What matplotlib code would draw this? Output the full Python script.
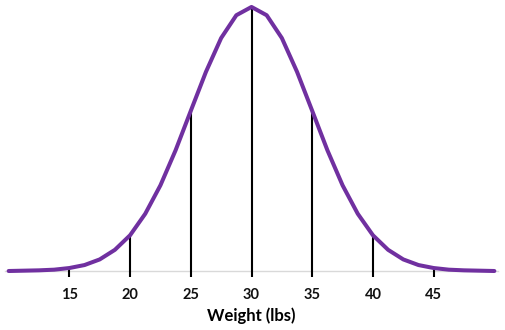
import matplotlib
matplotlib.use("Agg")
import matplotlib.pyplot as plt

plt.rcParams["font.family"] = ["Lato", "DejaVu Sans"]

# Weight distribution curve (sampled every 1.25 lbs)
weights = [10, 11.25, 12.5, 13.75, 15, 16.25, 17.5, 18.75, 20, 21.25, 22.5, 23.75,
           25, 26.25, 27.5, 28.75, 30, 31.25, 32.5, 33.75, 35, 36.25, 37.5, 38.75,
           40, 41.25, 42.5, 43.75, 45, 46.25, 47.5, 48.75, 50]
density = [0.0000, 0.0001, 0.0002, 0.0004, 0.0009, 0.0018, 0.0035, 0.0064, 0.0108,
           0.0173, 0.0259, 0.0365, 0.0484, 0.0602, 0.0704, 0.0773, 0.0798,
           0.0773, 0.0704, 0.0602, 0.0484, 0.0365, 0.0259, 0.0173, 0.0108,
           0.0064, 0.0035, 0.0018, 0.0009, 0.0004, 0.0002, 0.0001, 0.0000]

# Marker lines and tick labels
marks = [15, 20, 25, 30, 35, 40, 45]
mark_heights = [0.0009, 0.0108, 0.0484, 0.0798, 0.0484, 0.0108, 0.0009]
tick_labels = ["15", "20", "25", "30", "35", "40", "45"]

fig = plt.figure(figsize=(5.06, 3.30), dpi=100)
ax = fig.add_axes([5/506, (330-271)/330, (498-5)/506, (271-2)/330])

ax.vlines(marks, -0.0018, mark_heights, colors="black", linewidth=1.5,
          clip_on=False, zorder=2)
ax.plot(weights, density, color="#7030A0", linewidth=2.9,
        solid_capstyle="round", solid_joinstyle="round", clip_on=False, zorder=3)

ax.set_xlim(9.7, 50.3)
ax.set_ylim(0, 0.0813)

for side in ("top", "right", "left"):
    ax.spines[side].set_visible(False)
ax.spines["bottom"].set_color("#D9D9D9")
ax.spines["bottom"].set_linewidth(1.0)
ax.spines["bottom"].set_zorder(1)
ax.set_yticks([])
ax.set_xticks(marks)
ax.set_xticklabels(tick_labels, fontsize=10.5, fontweight="bold", color="#111111")
ax.tick_params(axis="x", length=0, pad=12.5)
ax.set_xlabel("Weight (lbs)", fontsize=12, fontweight="bold", color="#000000",
              labelpad=4)

fig.savefig("out.png", dpi=100)
